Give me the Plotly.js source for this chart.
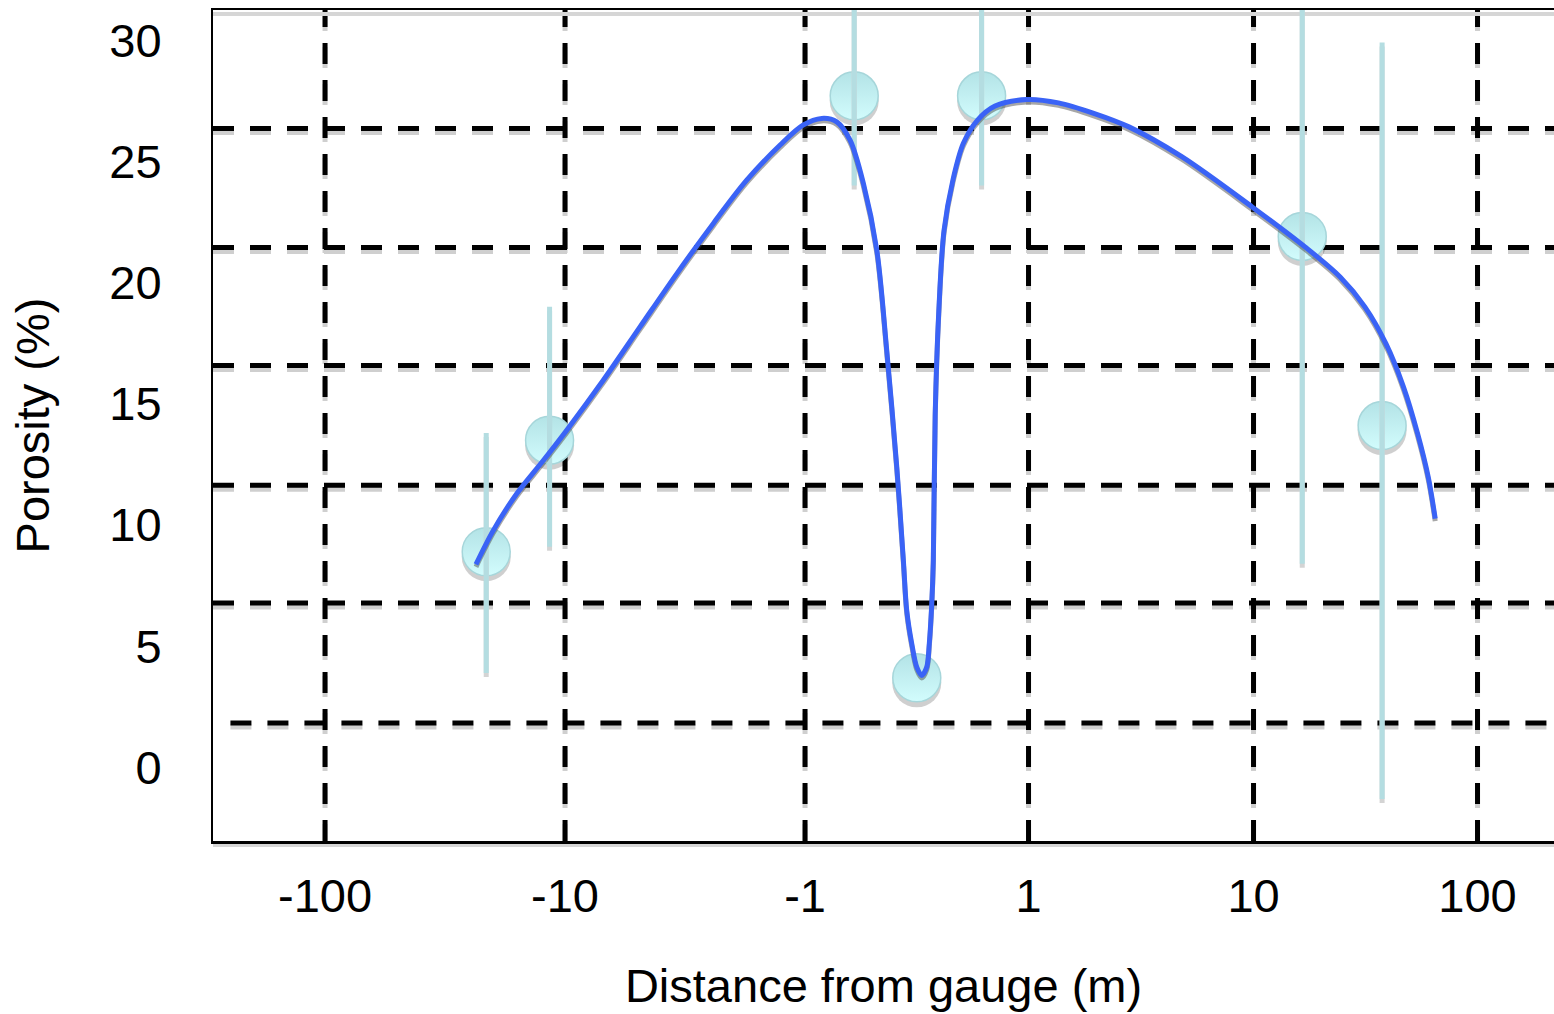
<!DOCTYPE html>
<html>
<head>
<meta charset="utf-8">
<script src="https://cdn.plot.ly/plotly-3.0.1.min.js"></script>
<style>
  html, body { margin: 0; padding: 0; background: #ffffff; }
  #chart { width: 1554px; height: 1014px; }
</style>
</head>
<body>
<div id="chart"></div>
<script>
// ---------------- data ----------------
// measured samples: distance from gauge (m) and porosity (%)
const sampleDistance = [-21.3, -11.6, -0.56, 0.0, 0.58, 16.5, 37.5];
const samplePorosity = [8.9, 13.5, 27.7, 3.7, 27.7, 21.9, 14.1];
const sampleErrUp    = [4.9, 5.5, 3.7, 0, 3.7, 13.5, 15.8];
const sampleErrDown  = [5.0, 4.4, 3.7, 0, 3.7, 13.5, 15.4];

// fitted trend curve
const fitDistance = [-23.5, -19.9, -15.9, -12.3, -9.84, -6.93, -4.87, -3.42, -2.41, -1.75,
  -1.27, -1.02, -0.851, -0.716, -0.597, -0.478, -0.358, -0.269, -0.179, -0.120,
  -0.090, -0.045, 0.0, 0.044, 0.089, 0.112, 0.134, 0.148, 0.165, 0.196,
  0.244, 0.323, 0.417, 0.544, 0.700, 0.985, 1.359, 1.949, 2.794, 4.797,
  9.86, 16.98, 24.36, 31.40, 39.00, 46.73, 54.02, 60.25, 64.74];
const fitPorosity = [8.38, 9.78, 11.29, 12.67, 13.91, 15.97, 18.17, 20.37, 22.44, 24.22,
  25.67, 26.49, 26.77, 26.63, 25.87, 24.09, 21.34, 17.21, 12.39, 8.54,
  6.48, 5.11, 4.14, 3.80, 4.14, 5.11, 6.76, 8.54, 14.60, 18.72,
  22.16, 24.22, 25.74, 26.70, 27.28, 27.55, 27.41, 26.98, 26.42, 25.19,
  23.12, 21.47, 20.23, 19.00, 17.48, 15.69, 13.77, 11.98, 10.26];

// axis ticks and grid
const xTickValues = [-100, -10, -1, 1, 10, 100];
const xTickLabels = ['-100', '-10', '-1', '1', '10', '100'];
const yTickValues = [0, 5, 10, 15, 20, 25, 30];
const yGridValues = [1.84, 6.78, 11.64, 16.58, 21.45, 26.35];

// ---------------- scale (symmetric log: log decades, linear between -1 and 1) -------------
const bandWidths = [240, 240, 223.5, 225, 224];   // axis units per band between tick anchors
const bandStart = [0];
for (let i = 0; i < bandWidths.length; i++) bandStart.push(bandStart[i] + bandWidths[i]);
function toU(x) {
  let i, frac;
  if (x <= -1) {
    const t = -Math.log10(-x);
    if (x <= -10) { i = 0; frac = t + 2; } else { i = 1; frac = t + 1; }
  } else if (x < 1) {
    i = 2; frac = (x + 1) / 2;
  } else {
    const t = Math.log10(x);
    if (x < 10) { i = 3; frac = t; } else { i = 4; frac = t - 1; }
  }
  return bandStart[i] + frac * bandWidths[i];
}
const xLimits = [-293, 219.5];
const yLimits = [-3.03, 31.24];

// ---------------- styling ----------------
const FONT = 'Liberation Sans, Arial, Helvetica, sans-serif';
const plotH = 1014 - 10 - 173;
const pxY = (yLimits[1] - yLimits[0]) / plotH;      // data units per pixel (y)
const shadowGray = 'rgba(0,0,0,0.19)';

const sx = sampleDistance.map(toU);
const fx = fitDistance.map(toU);

const traces = [
  // marker shadows
  {
    x: sx, y: samplePorosity.map(v => v - 5 * pxY),
    type: 'scatter', mode: 'markers', hoverinfo: 'skip',
    marker: { size: 49, color: shadowGray, line: { width: 0 } }
  },
  // samples
  {
    x: sx, y: samplePorosity,
    type: 'scatter', mode: 'markers', hoverinfo: 'skip',
    marker: { size: 48, color: '#b3e3e6', gradient: { type: 'vertical', color: '#d2fcfd' },
              line: { width: 1.5, color: '#a6d6da' } }
  },
  // error bar shadows
  {
    x: sx, y: samplePorosity.map(v => v - 4 * pxY),
    type: 'scatter', mode: 'markers', hoverinfo: 'skip',
    marker: { size: 1, color: 'rgba(0,0,0,0)' },
    error_y: { type: 'data', symmetric: false, array: sampleErrUp, arrayminus: sampleErrDown,
               color: '#d4d4d4', thickness: 5, width: 0 }
  },
  // error bars
  {
    x: sx, y: samplePorosity,
    type: 'scatter', mode: 'markers', hoverinfo: 'skip',
    marker: { size: 1, color: 'rgba(0,0,0,0)' },
    error_y: { type: 'data', symmetric: false, array: sampleErrUp, arrayminus: sampleErrDown,
               color: '#b4dde1', thickness: 5, width: 0 }
  },
  // curve shadow
  {
    x: fx, y: fitPorosity.map(v => v - 2.5 * pxY),
    type: 'scatter', mode: 'lines', hoverinfo: 'skip',
    line: { color: 'rgba(60,60,60,0.45)', width: 5, shape: 'spline', smoothing: 0.9 }
  },
  // fitted curve
  {
    x: fx, y: fitPorosity,
    type: 'scatter', mode: 'lines', hoverinfo: 'skip',
    line: { color: '#3a63f6', width: 5, shape: 'spline', smoothing: 0.9 }
  }
];

const shapes = [];
const DASH = '21px,16px';
const GRIDW = 5;
// vertical grid (shadow first)
xTickValues.forEach(v => {
  shapes.push({ type: 'line', layer: 'below', xref: 'x', yref: 'paper',
    x0: toU(v), x1: toU(v), y0: -4 / plotH, y1: 1 - 4 / plotH,
    line: { color: '#cfcfcf', width: GRIDW, dash: DASH } });
});
// horizontal grid shadows
yGridValues.forEach((v, i) => {
  shapes.push({ type: 'line', layer: 'below', xref: 'paper', yref: 'y',
    x0: i === 0 ? 0.013 : 0, x1: 1, y0: v - 4 * pxY, y1: v - 4 * pxY,
    line: { color: '#cfcfcf', width: GRIDW, dash: DASH } });
});
xTickValues.forEach(v => {
  shapes.push({ type: 'line', layer: 'below', xref: 'x', yref: 'paper',
    x0: toU(v), x1: toU(v), y0: 0, y1: 1,
    line: { color: '#000000', width: GRIDW, dash: DASH } });
});
yGridValues.forEach((v, i) => {
  shapes.push({ type: 'line', layer: 'below', xref: 'paper', yref: 'y',
    x0: i === 0 ? 0.013 : 0, x1: 1, y0: v, y1: v,
    line: { color: '#000000', width: GRIDW, dash: DASH } });
});
// frame shadows (top and bottom)
shapes.push({ type: 'line', layer: 'below', xref: 'paper', yref: 'paper',
  x0: 0, x1: 1, y0: 1 - 4 / plotH, y1: 1 - 4 / plotH, line: { color: '#d6d6d6', width: 4 } });
shapes.push({ type: 'line', layer: 'below', xref: 'paper', yref: 'paper',
  x0: 0, x1: 1, y0: -4 / plotH, y1: -4 / plotH, line: { color: '#d6d6d6', width: 4 } });

const layout = {
  width: 1554, height: 1014,
  margin: { l: 213, r: 0, t: 10, b: 173, pad: 0 },
  paper_bgcolor: '#ffffff', plot_bgcolor: '#ffffff',
  showlegend: false, hovermode: false,
  font: { family: FONT, size: 47, color: '#000000' },
  xaxis: {
    range: [toU(xLimits[0]), toU(xLimits[1])],
    tickmode: 'array', tickvals: xTickValues.map(toU), ticktext: xTickLabels,
    ticks: 'outside', ticklen: 12, tickcolor: 'rgba(0,0,0,0)',
    tickfont: { family: FONT, size: 47, color: '#000000' },
    showgrid: false, zeroline: false,
    showline: true, linecolor: '#000000', linewidth: 2.5, mirror: true,
    title: { text: 'Distance from gauge (m)', font: { family: FONT, size: 47, color: '#000000' }, standoff: 48 }
  },
  yaxis: {
    range: yLimits,
    tickmode: 'array', tickvals: yTickValues, ticktext: yTickValues.map(String),
    ticks: 'outside', ticklen: 40, tickcolor: 'rgba(0,0,0,0)',
    tickfont: { family: FONT, size: 47, color: '#000000' },
    showgrid: false, zeroline: false,
    showline: true, linecolor: '#000000', linewidth: 2, mirror: false,
    title: { text: 'Porosity (%)', font: { family: FONT, size: 47, color: '#000000' }, standoff: 45 }
  },
  shapes: shapes
};

Plotly.newPlot('chart', traces, layout, { staticPlot: true, displayModeBar: false });
</script>
</body>
</html>
